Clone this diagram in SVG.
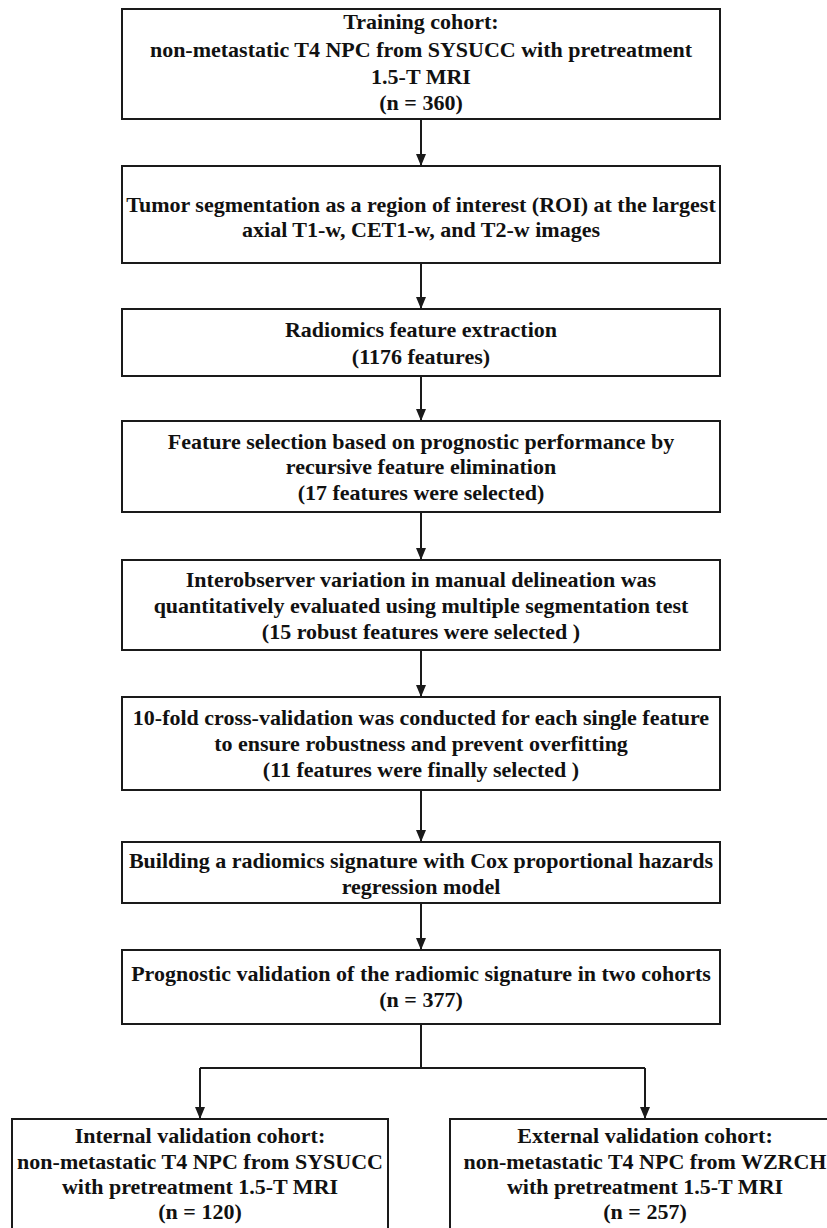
<svg xmlns="http://www.w3.org/2000/svg" width="827" height="1228" viewBox="0 0 827 1228">
<style>
.box{fill:#fff;stroke:#1a1a1a;stroke-width:2}
.t{font-family:"Liberation Serif","Times New Roman",serif;font-weight:bold;font-size:22px;fill:#111;text-anchor:middle}
.c{fill:none;stroke:#1a1a1a;stroke-width:2}
</style>
<defs>
<marker id="ah" viewBox="0 0 12 10" refX="12" refY="5" markerWidth="12" markerHeight="10" markerUnits="userSpaceOnUse" orient="auto">
<path d="M0,0 L12,5 L0,10 z" fill="#1a1a1a"/>
</marker>
</defs>
<rect width="827" height="1228" fill="#fff"/>
<g id="connectors">
<line class="c" x1="421" y1="119" x2="421" y2="166" marker-end="url(#ah)"/>
<line class="c" x1="421" y1="263" x2="421" y2="309" marker-end="url(#ah)"/>
<line class="c" x1="421" y1="376" x2="421" y2="421" marker-end="url(#ah)"/>
<line class="c" x1="421" y1="512" x2="421" y2="560" marker-end="url(#ah)"/>
<line class="c" x1="421" y1="650" x2="421" y2="697" marker-end="url(#ah)"/>
<line class="c" x1="421" y1="790" x2="421" y2="842" marker-end="url(#ah)"/>
<line class="c" x1="421" y1="903" x2="421" y2="950" marker-end="url(#ah)"/>
<polyline class="c" points="421,1024 421,1068"/>
<polyline class="c" points="200,1068 645,1068"/>
<line class="c" x1="200" y1="1068" x2="200" y2="1119" marker-end="url(#ah)"/>
<line class="c" x1="645" y1="1068" x2="645" y2="1119" marker-end="url(#ah)"/>
</g>
<g id="n1">
<rect class="box" x="122" y="9" width="598" height="110"/>
<text class="t" x="421" y="29">Training cohort:</text>
<text class="t" x="421" y="57">non-metastatic T4 NPC from SYSUCC with pretreatment</text>
<text class="t" x="421" y="84">1.5-T MRI</text>
<text class="t" x="421" y="110">(n = 360)</text>
</g>
<g id="n2">
<rect class="box" x="122" y="166" width="598" height="97"/>
<text class="t" x="421" y="212">Tumor segmentation as a region of interest (ROI) at the largest</text>
<text class="t" x="421" y="237">axial T1-w, CET1-w, and T2-w images</text>
</g>
<g id="n3">
<rect class="box" x="122" y="309" width="598" height="67"/>
<text class="t" x="421" y="337">Radiomics feature extraction</text>
<text class="t" x="421" y="364">(1176  features)</text>
</g>
<g id="n4">
<rect class="box" x="122" y="421" width="598" height="91"/>
<text class="t" x="421" y="449">Feature selection based on prognostic performance by</text>
<text class="t" x="421" y="474">recursive feature elimination</text>
<text class="t" x="421" y="500">(17 features were selected)</text>
</g>
<g id="n5">
<rect class="box" x="122" y="560" width="598" height="90"/>
<text class="t" x="421" y="587">Interobserver variation in manual delineation was</text>
<text class="t" x="421" y="613">quantitatively evaluated using multiple segmentation test</text>
<text class="t" x="421" y="639">(15 robust features were selected )</text>
</g>
<g id="n6">
<rect class="box" x="122" y="697" width="598" height="93"/>
<text class="t" x="421" y="725">10-fold cross-validation was conducted for each single feature</text>
<text class="t" x="421" y="751">to ensure robustness and prevent overfitting</text>
<text class="t" x="421" y="777">(11  features were finally selected )</text>
</g>
<g id="n7">
<rect class="box" x="122" y="842" width="598" height="61"/>
<text class="t" x="421" y="868">Building a radiomics signature with Cox proportional hazards</text>
<text class="t" x="421" y="894">regression model</text>
</g>
<g id="n8">
<rect class="box" x="122" y="950" width="598" height="74"/>
<text class="t" x="421" y="981">Prognostic validation of the radiomic signature in two cohorts</text>
<text class="t" x="421" y="1007">(n = 377)</text>
</g>
<g id="n9">
<rect class="box" x="12" y="1119" width="376" height="130"/>
<text class="t" x="200" y="1143">Internal validation cohort:</text>
<text class="t" x="200" y="1169">non-metastatic T4 NPC from SYSUCC</text>
<text class="t" x="200" y="1194">with pretreatment 1.5-T MRI</text>
<text class="t" x="200" y="1219">(n = 120)</text>
</g>
<g id="n10">
<rect class="box" x="450" y="1119" width="400" height="130"/>
<text class="t" x="645" y="1143">External validation cohort:</text>
<text class="t" x="645" y="1169">non-metastatic T4 NPC from WZRCH</text>
<text class="t" x="645" y="1194">with pretreatment 1.5-T MRI</text>
<text class="t" x="645" y="1219">(n = 257)</text>
</g>
</svg>
